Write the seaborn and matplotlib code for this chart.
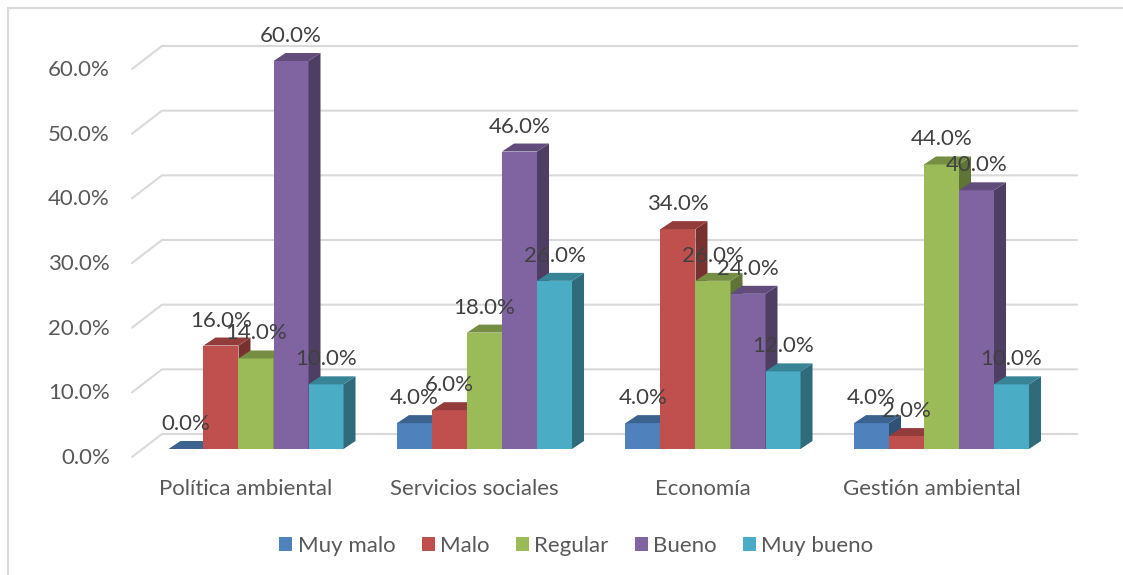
import matplotlib
matplotlib.use("Agg")
import matplotlib.pyplot as plt
from matplotlib.colors import to_rgb
from matplotlib.lines import Line2D
from matplotlib.patches import Polygon
from matplotlib.transforms import ScaledTranslation
import pandas as pd
import seaborn as sns

categories = ["Política ambiental", "Servicios sociales", "Economía", "Gestión ambiental"]
series_names = ["Muy malo", "Malo", "Regular", "Bueno", "Muy bueno"]
muy_malo = [0, 4, 4, 4]
malo = [16, 6, 34, 2]
regular = [14, 18, 26, 44]
bueno = [60, 46, 24, 40]
muy_bueno = [10, 26, 12, 10]
y_ticks = [0, 10, 20, 30, 40, 50, 60]
colors = ["#4F81BD", "#C0504D", "#9BBB59", "#8064A2", "#4BACC6"]

W, H, DPI = 1123, 575, 100
sns.set_theme(style="white")
plt.rcParams["font.family"] = ["Lato", "DejaVu Sans"]

rows = []
for name, vals in zip(series_names, [muy_malo, malo, regular, bueno, muy_bueno]):
    for c, v in zip(categories, vals):
        rows.append({"cat": c, "serie": name, "valor": v})
df = pd.DataFrame(rows)

fig = plt.figure(figsize=(W / DPI, H / DPI), dpi=DPI, facecolor="white")
# plot box in pixels
L, R, B, T = 141.75, 1055.75, 449.0, 61.0
ax = fig.add_axes([L / W, 1 - B / H, (R - L) / W, (B - T) / H])
ax.patch.set_alpha(0)

sns.barplot(data=df, x="cat", y="valor", hue="serie", hue_order=series_names,
            order=categories, palette=colors, saturation=1, width=0.766, gap=0,
            errorbar=None, ax=ax, linewidth=0, legend=True)
ax.set_xlim(-0.5, 3.5)
ax.set_ylim(0, 60)
ax.set_xlabel("")
ax.set_ylabel("")
sns.despine(ax=ax, left=True, bottom=True)

px_x = (R - L) / 4            # pixels per category
px_y = (B - T) / 60           # pixels per percent
depth_x, depth_y = 12 / px_x, 8 / px_y


def X(p):
    return (p - L) / px_x - 0.5


grid_c = "#D9D9D9"
for v in y_ticks:
    ax.plot([X(132), X(162), X(1077)],
            [v - 8 / px_y, v + 15 / px_y, v + 15 / px_y],
            color=grid_c, lw=1.5, zorder=1, clip_on=False, solid_joinstyle="miter")


def shade(c, f):
    return tuple(x * f for x in to_rgb(c))


for i, cont in enumerate(ax.containers):
    z = 3 + i
    for bar in cont:
        x, w, h = bar.get_x(), bar.get_width(), bar.get_height()
        bar.set_zorder(z)
        top = Polygon([(x, h), (x + w, h), (x + w + depth_x, h + depth_y), (x + depth_x, h + depth_y)],
                      closed=True, fc=shade(colors[i], 0.76), ec="none", zorder=z, clip_on=False)
        side = Polygon([(x + w, 0), (x + w + depth_x, depth_y), (x + w + depth_x, h + depth_y), (x + w, h)],
                       closed=True, fc=shade(colors[i], 0.62), ec="none", zorder=z, clip_on=False)
        ax.add_patch(side)
        ax.add_patch(top)
        ax.annotate(f"{h:.1f}%", (x + w / 2, h), xytext=(0, 25 * 72 / DPI),
                    textcoords="offset points", ha="center", va="center",
                    fontsize=16, color="#404040", zorder=30, annotation_clip=False)

ax.set_yticks(y_ticks)
ax.set_yticklabels([f"{v:.1f}%" for v in y_ticks])
ax.tick_params(axis="both", length=0)
ax.tick_params(axis="y", labelsize=16, labelcolor="#595959", pad=32 * 72 / DPI)
ax.tick_params(axis="x", labelsize=16, labelcolor="#595959", pad=30 * 72 / DPI)
off_y = ScaledTranslation(0, -7 / DPI, fig.dpi_scale_trans)
for lab in ax.get_yticklabels():
    lab.set_transform(lab.get_transform() + off_y)
off_x = ScaledTranslation(-10 / DPI, 0, fig.dpi_scale_trans)
for lab in ax.get_xticklabels():
    lab.set_transform(lab.get_transform() + off_x)

sns.move_legend(ax, "center", bbox_to_anchor=(576.5 / W, 1 - 546 / H),
                bbox_transform=fig.transFigure, ncol=5, frameon=False, title=None,
                fontsize=16, labelcolor="#595959", handlelength=0.585, handleheight=0.585,
                handletextpad=0.25, columnspacing=1.17)

# Outer chart border: only the left and top edges are visible in the picture
fig.add_artist(Line2D([8 / W, 8 / W, 1], [0, 1 - 8 / H, 1 - 8 / H],
                      transform=fig.transFigure, color=grid_c, lw=1.5,
                      solid_joinstyle="miter"))
fig.savefig("out.png", dpi=DPI)
